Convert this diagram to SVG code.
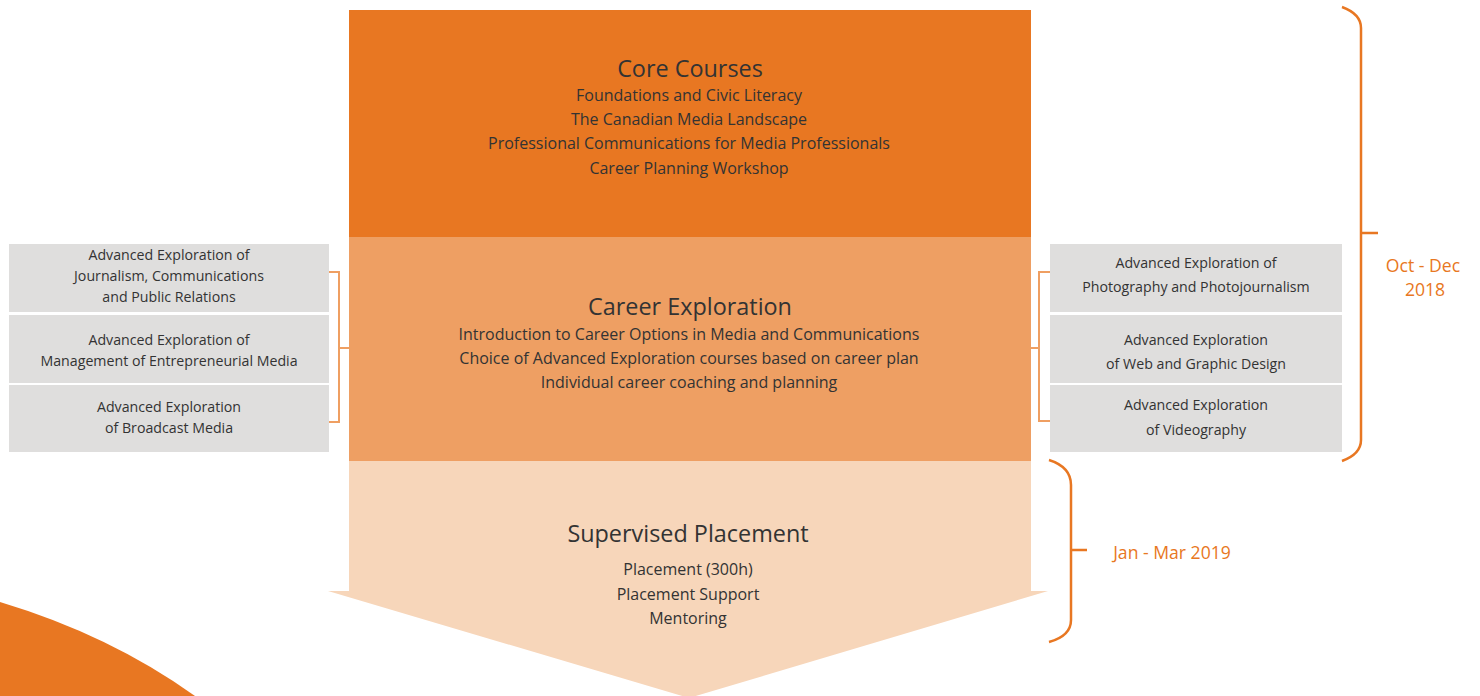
<svg xmlns="http://www.w3.org/2000/svg" width="1480" height="696" viewBox="0 0 1480 696">
<style>
text{font-family:"Open Sans","Noto Sans",sans-serif;fill:#333;text-anchor:middle}
.t{font-size:23.4px}
.b{font-size:16px}
.s{font-size:14.2px}
.d{font-size:17.6px;fill:#E87722}
.box{fill:#DFDEDD}
.br{fill:none;stroke:#EF9F62;stroke-width:2}
.bb{fill:none;stroke:#E87722;stroke-width:2.5}
</style>
<rect width="1480" height="696" fill="#fff"/>
<path d="M0,602 Q110,635 195,696 L0,696 Z" fill="#E87722"/>
<g id="core">
<rect x="349" y="10" width="682" height="227" fill="#E87722"/>
<text class="t" x="690" y="77">Core Courses</text>
<text class="b" x="689" y="101">Foundations and Civic Literacy</text>
<text class="b" x="689" y="125">The Canadian Media Landscape</text>
<text class="b" x="689" y="149">Professional Communications for Media Professionals</text>
<text class="b" x="689" y="174">Career Planning Workshop</text>
</g>
<g id="career">
<rect x="349" y="237" width="682" height="224" fill="#EE9F63"/>
<text class="t" x="690" y="315">Career Exploration</text>
<text class="b" x="689" y="340">Introduction to Career Options in Media and Communications</text>
<text class="b" x="689" y="364">Choice of Advanced Exploration courses based on career plan</text>
<text class="b" x="689" y="388">Individual career coaching and planning</text>
</g>
<g id="placement">
<path d="M349,461 H1031 V591 H1048 L689,698 L328,591 H349 Z" fill="#F7D6BA"/>
<text class="t" x="688" y="542">Supervised Placement</text>
<text class="b" x="688" y="575">Placement (300h)</text>
<text class="b" x="688" y="600">Placement Support</text>
<text class="b" x="688" y="624">Mentoring</text>
</g>
<g id="left1"><rect class="box" x="9" y="244" width="320" height="68"/>
<text class="s" x="169" y="260">Advanced Exploration of</text>
<text class="s" x="169" y="281">Journalism, Communications</text>
<text class="s" x="169" y="302">and Public Relations</text></g>
<g id="left2"><rect class="box" x="9" y="315" width="320" height="68"/>
<text class="s" x="169" y="345">Advanced Exploration of</text>
<text class="s" x="169" y="366">Management of Entrepreneurial Media</text></g>
<g id="left3"><rect class="box" x="9" y="385" width="320" height="67"/>
<text class="s" x="169" y="412">Advanced Exploration</text>
<text class="s" x="169" y="433">of Broadcast Media</text></g>
<g id="right1"><rect class="box" x="1050" y="244" width="292" height="68"/>
<text class="s" x="1196" y="268">Advanced Exploration of</text>
<text class="s" x="1196" y="292">Photography and Photojournalism</text></g>
<g id="right2"><rect class="box" x="1050" y="315" width="292" height="68"/>
<text class="s" x="1196" y="345">Advanced Exploration</text>
<text class="s" x="1196" y="369">of Web and Graphic Design</text></g>
<g id="right3"><rect class="box" x="1050" y="385" width="292" height="67"/>
<text class="s" x="1196" y="410">Advanced Exploration</text>
<text class="s" x="1196" y="435">of Videography</text></g>
<g id="connectors">
<path class="br" d="M329,272 H339 V422 H329 M339,348 H349"/>
<path class="br" d="M1050,272 H1039 V421 H1050 M1039,348 H1031"/>
<path class="bb" d="M1342,7 Q1361,14 1361,28 V440 Q1361,454 1342,461 M1361,233 H1378"/>
<path class="bb" d="M1049,460 Q1071,467 1071,485 V620 Q1071,636 1049,642 M1071,550 H1087"/>
</g>
<g id="dates">
<text class="d" x="1423" y="272">Oct - Dec</text>
<text class="d" x="1425" y="296">2018</text>
<text class="d" x="1172" y="559">Jan - Mar 2019</text>
</g>
</svg>
